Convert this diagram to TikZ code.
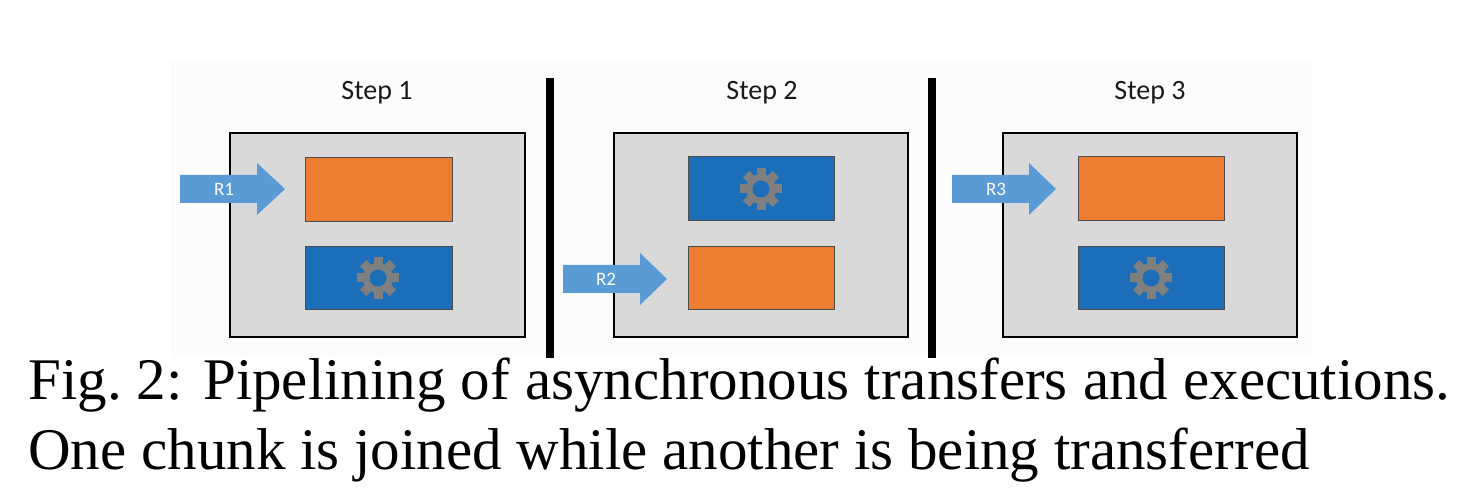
\documentclass[tikz,border=0pt]{standalone}
\usepackage{fontspec}
\setmainfont{Liberation Serif}
\newfontfamily\uisans{Carlito}
\definecolor{orng}{HTML}{ED7D31}
\definecolor{blu}{HTML}{1B6EB7}
\definecolor{pnl}{HTML}{D9D9D9}
\definecolor{arr}{HTML}{5B9BD5}
\definecolor{gr}{HTML}{7F7F7F}
\begin{document}
\begin{tikzpicture}[x=0.5pt,y=-0.5pt,
  panel/.style={fill=pnl,draw=black,line width=1.2pt},
  job/.style={draw=black!70,line width=0.5pt},
  lbl/.style={font=\uisans\fontsize{14}{16}\selectfont,text=black!90},
  rl/.style={font=\uisans\fontsize{9.5}{11}\selectfont,text=white},
  gearp/.pic={
    \fill[gr] (0,0) circle (15);
    \foreach \a in {0,45,...,315}{\fill[gr,rotate=\a] (-4.5,-12) rectangle (4.5,-21);}
    \fill[blu] (0,0) circle (8.5);
  }]
\useasboundingbox (0,0) rectangle (1462,490);
\fill[black!1] (170,60) rectangle (1312,358);
\fill[black] (546,78) rectangle (554,358);
\fill[black] (928,78) rectangle (936,358);
% step 1
\node[lbl] (s1) at (377,93) {Step 1};
\draw[panel] (230,133) rectangle (525,337);
\draw[job,fill=orng] (305,158) rectangle (452,222);
\draw[job,fill=blu] (305,247) rectangle (452,310);
\pic at (378,278) {gearp};
\fill[arr] (180,175) -- (257,175) -- (257,163) -- (285,189) -- (257,215) -- (257,203) -- (180,203) -- cycle;
\node[rl] (r1) at (224,189) {R1};
% step 2
\node[lbl] (s2) at (762,93) {Step 2};
\draw[panel] (614,133) rectangle (908,337);
\draw[job,fill=blu] (688,157) rectangle (834,221);
\draw[job,fill=orng] (688,247) rectangle (834,310);
\pic at (761,189) {gearp};
\fill[arr] (563,265) -- (640,265) -- (640,253) -- (667,279) -- (640,305) -- (640,293) -- (563,293) -- cycle;
\node[rl] (r2) at (606,279) {R2};
% step 3
\node[lbl] (s3) at (1150,93) {Step 3};
\draw[panel] (1003,133) rectangle (1297,337);
\draw[job,fill=orng] (1078,157) rectangle (1224,221);
\draw[job,fill=blu] (1078,247) rectangle (1224,310);
\pic at (1151,278) {gearp};
\fill[arr] (952,175) -- (1029,175) -- (1029,163) -- (1056,189) -- (1029,215) -- (1029,203) -- (952,203) -- cycle;
\node[rl] (r3) at (996,189) {R3};
% caption
\node[anchor=north west,inner sep=0pt,text width=711pt,align=justify,
  font=\fontsize{29.5}{35}\selectfont] (cap) at (28,358)
  {Fig.~2: Pipelining of asynchronous transfers and executions. One chunk is joined while another is being transferred};
\end{tikzpicture}
\end{document}
